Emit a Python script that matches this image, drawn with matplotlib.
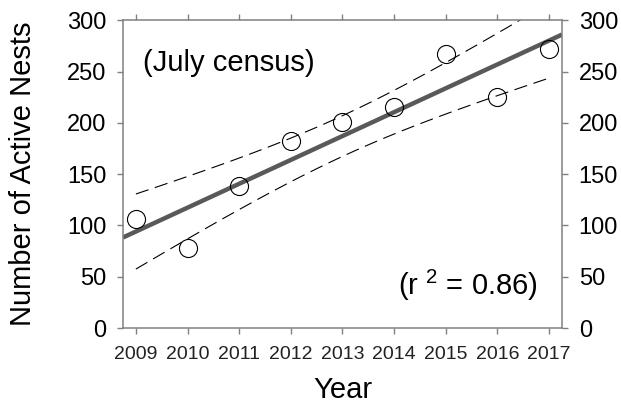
import numpy as np
import matplotlib
matplotlib.use("Agg")
import matplotlib.pyplot as plt

plt.rcParams['font.family'] = ['Liberation Sans', 'DejaVu Sans']
plt.rcParams['mathtext.fontset'] = 'custom'
plt.rcParams['mathtext.rm'] = 'Liberation Sans'

years = [2009, 2010, 2011, 2012, 2013, 2014, 2015, 2016, 2017]
nests = [106, 78, 138, 182, 201, 215, 267, 225, 272]

x = np.array(years, dtype=float)
y = np.array(nests, dtype=float)
n = len(x)

# least squares fit + 95% confidence band of the mean
slope, icpt = np.polyfit(x, y, 1)
resid = y - (slope * x + icpt)
s = np.sqrt(np.sum(resid ** 2) / (n - 2))
sxx = np.sum((x - x.mean()) ** 2)
t = 2.365  # t(0.975, df=7)

xl = np.array([2008.75, 2017.25])
xb = np.linspace(2009, 2017, 100)
yb = slope * xb + icpt
half = t * s * np.sqrt(1 / n + (xb - x.mean()) ** 2 / sxx)

fig = plt.figure(figsize=(6.21, 4.04), dpi=100)
ax = fig.add_axes([0.198, 0.188, 0.707, 0.762])

ax.plot(xl, slope * xl + icpt, color='#595959', lw=3.2, solid_capstyle='butt', zorder=2)
ax.plot(xb, yb + half, color='black', lw=0.8, dashes=(12, 6), zorder=2)
ax.plot(xb, yb - half, color='black', lw=0.8, dashes=(12, 6), zorder=2)
ax.plot(x, y, 'o', ms=13, mfc='none', mec='black', mew=0.8, zorder=3)

ax.set_xlim(2008.75, 2017.25)
ax.set_ylim(0, 300)
ax.set_xticks(years)
ax.set_yticks([0, 50, 100, 150, 200, 250, 300])

for sp in ax.spines.values():
    sp.set_color('#808080')
    sp.set_linewidth(1.1)

ax.tick_params(axis='x', direction='out', top=True, length=4, width=1, color='#808080',
               labelsize=14, pad=9, labelcolor='#222222')
ax.tick_params(axis='y', direction='out', right=True, labelright=True, length=4, width=1,
               color='#808080', labelsize=17, pad=8)

ax.set_xlabel('Year', fontsize=21)
ax.xaxis.set_label_coords(0.5, -0.155)
ax.set_ylabel('Number of Active Nests', fontsize=21)
ax.yaxis.set_label_coords(-0.195, 0.5)

ax.text(0.046, 0.86, '(July census)', transform=ax.transAxes, fontsize=21,
        ha='left', va='center')
ax.text(0.945, 0.14, '(r $^{2}$ = 0.86)', transform=ax.transAxes, fontsize=21,
        ha='right', va='center')

fig.savefig('out.png', dpi=100)
